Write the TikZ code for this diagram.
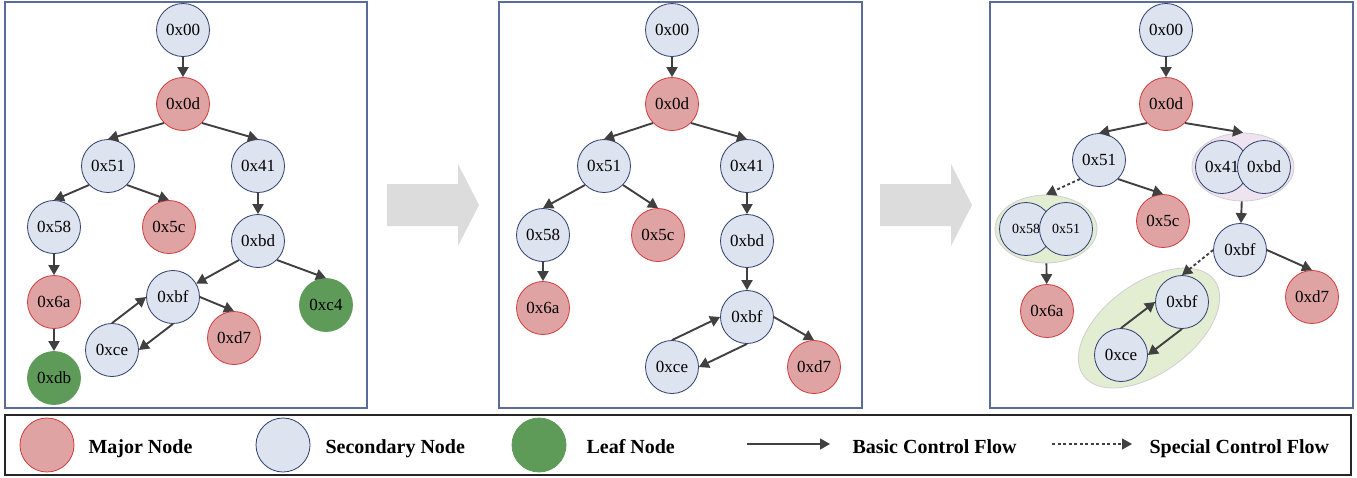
\documentclass[tikz,border=0pt]{standalone}
\usepackage{fontspec}
\setmainfont{Liberation Serif}
\usetikzlibrary{arrows.meta,shapes.geometric}
\definecolor{majfill}{HTML}{E0A3A3}
\definecolor{majline}{HTML}{D23B3B}
\definecolor{secfill}{HTML}{DDE3EF}
\definecolor{secline}{HTML}{2F3E6E}
\definecolor{leaffill}{HTML}{5E9B59}
\definecolor{frameline}{HTML}{5B6C9B}
\definecolor{flowline}{HTML}{404040}
\definecolor{grpgreen}{HTML}{E3EDD2}
\definecolor{grppink}{HTML}{EEE4EF}
\definecolor{grpline}{HTML}{CFCFCF}
\definecolor{bigarrow}{HTML}{DCDCDC}
\begin{document}
\begin{tikzpicture}[x=1pt,y=-1pt,
                major/.style={circle,draw=majline,fill=majfill,line width=0.8pt,minimum size=53pt,inner sep=0pt,font=\fontsize{17}{17}\selectfont},
                second/.style={major,draw=secline,fill=secfill},
                leaf/.style={major,draw=leaffill,fill=leaffill},
                small/.style={font=\fontsize{14}{14}\selectfont},
                flow/.style={draw=flowline,line width=1.9pt,-{Triangle[length=10pt,width=11pt]}},
                special/.style={flow,dash pattern=on 3pt off 2.5pt},
                group/.style={ellipse,draw=grpline,line width=0.8pt,inner sep=0pt},
                panel/.style={draw=frameline,line width=1.6pt},
                legendtext/.style={anchor=base west,font=\bfseries\fontsize{20}{20}\selectfont}]
                \fill[white] (0,0) rectangle (1357,477);
                \useasboundingbox (0,0) rectangle (1357,477);
                \draw[panel] (5,2) rectangle (367,408);
                \draw[panel] (499,2) rectangle (862,408);
                \draw[panel] (990,2) rectangle (1353,408);
                \fill[bigarrow] (387,184) -- (458,184) -- (458,164) -- (479,205) -- (458,246) -- (458,226) -- (387,226) -- cycle;
                \fill[bigarrow] (880,184) -- (951,184) -- (951,164) -- (972,205) -- (951,246) -- (951,226) -- (880,226) -- cycle;

                \node[second] (a00) at (183,30) {0x00};
                \node[major] (a0d) at (183,104) {0x0d};
                \node[second] (a51) at (108,166) {0x51};
                \node[second] (a41) at (258,166) {0x41};
                \node[second] (a58) at (54,227) {0x58};
                \node[major] (a5c) at (169,227) {0x5c};
                \node[second] (abd) at (258,241) {0xbd};
                \node[major] (a6a) at (54,302) {0x6a};
                \node[second] (abf) at (173,297) {0xbf};
                \node[leaf] (ac4) at (326,305) {0xc4};
                \node[second] (ace) at (112,350) {0xce};
                \node[major] (ad7) at (234,338) {0xd7};
                \node[leaf] (adb) at (54,378) {0xdb};
                \draw[flow] (a00) -- (a0d);
                \draw[flow] (a0d.south west) -- (a51.north);
                \draw[flow] (a0d.south east) -- (a41.north);
                \draw[flow] (a51.south west) -- (a58.north);
                \draw[flow] (a51.south east) -- (a5c.north);
                \draw[flow] (a58) -- (a6a);
                \draw[flow] (a6a) -- (adb);
                \draw[flow] (a41) -- (abd);
                \draw[flow] (abd.south west) -- (abf.30);
                \draw[flow] (abd.south east) -- (ac4.north);
                \draw[flow] (abf.east) -- (ad7.north);
                \draw[flow] (ace.north) -- (abf.west);
                \draw[flow] (abf.south) -- (ace.east);

                \node[second] (b00) at (672,30) {0x00};
                \node[major] (b0d) at (672,104) {0x0d};
                \node[second] (b51) at (604,166) {0x51};
                \node[second] (b41) at (747,166) {0x41};
                \node[second] (b58) at (543,235) {0x58};
                \node[major] (b5c) at (658,235) {0x5c};
                \node[major] (b6a) at (543,308) {0x6a};
                \node[second] (bbd) at (747,241) {0xbd};
                \node[second] (bbf) at (747,317) {0xbf};
                \node[second] (bce) at (672,367) {0xce};
                \node[major] (bd7) at (814,367) {0xd7};
                \draw[flow] (b00) -- (b0d);
                \draw[flow] (b0d.south west) -- (b51.north);
                \draw[flow] (b0d.south east) -- (b41.north);
                \draw[flow] (b51.south west) -- (b58.north);
                \draw[flow] (b51.south east) -- (b5c.north);
                \draw[flow] (b58) -- (b6a);
                \draw[flow] (b41) -- (bbd);
                \draw[flow] (bbd) -- (bbf);
                \draw[flow] (bbf.east) -- (bd7.north);
                \draw[flow] (bce.north) -- (bbf.west);
                \draw[flow] (bbf.south) -- (bce.east);

                \node[group,fill=grppink,minimum width=102pt,minimum height=68pt] (gA) at (1243,167) {};
                \node[group,fill=grpgreen,minimum width=102pt,minimum height=68pt] (gB) at (1046,229) {};
                \node[group,fill=grpgreen,minimum width=162pt,minimum height=90pt,rotate=36] (gC) at (1149,328) {};
                \node[second] (c00) at (1166,30) {0x00};
                \node[major] (c0d) at (1166,104) {0x0d};
                \node[second] (c51) at (1099,160) {0x51};
                \node[second] (c41) at (1222,167) {0x41};
                \node[second] (cbd) at (1264,167) {0xbd};
                \node[second,small] (c58) at (1026,229) {0x58};
                \node[second,small] (c51b) at (1066,229) {0x51};
                \node[major] (c5c) at (1163,221) {0x5c};
                \node[major] (c6a) at (1047,311) {0x6a};
                \node[second] (cbf) at (1240,250) {0xbf};
                \node[major] (cd7) at (1312,297) {0xd7};
                \node[second] (cbfb) at (1182,302) {0xbf};
                \node[second] (cce) at (1121,355) {0xce};
                \draw[flow] (c00) -- (c0d);
                \draw[flow] (c0d.south west) -- (c51.north);
                \draw[flow] (c0d.south east) -- (gA.north);
                \draw[special] (c51.south west) -- (gB.north);
                \draw[flow] (c51.south east) -- (c5c.north);
                \draw[flow] (gB) -- (c6a);
                \draw[flow] (gA) -- (cbf);
                \draw[special] (cbf.west) -- (cbfb.north);
                \draw[flow] (cbf.east) -- (cd7.north);
                \draw[flow] (cce.north) -- (cbfb.west);
                \draw[flow] (cbfb.south) -- (cce.east);

                \draw[line width=1.6pt,draw=black!85] (5,415) rectangle (1351,475);
                \node[major,minimum size=54pt] (lmaj) at (47,445) {};
                \node[legendtext] (tmaj) at (85,453) {Major Node};
                \node[second,minimum size=54pt] (lsec) at (283,445) {};
                \node[legendtext] (tsec) at (322,453) {Secondary Node};
                \node[leaf,minimum size=54pt] (lleaf) at (539,445) {};
                \node[legendtext] (tleaf) at (583,453) {Leaf Node};
                \coordinate (bs) at (747,444);
                \coordinate (be) at (830,444);
                \draw[flow,line width=1.3pt] (bs) -- (be);
                \node[legendtext] (tbasic) at (849,453) {Basic Control Flow};
                \coordinate (ss) at (1052,444);
                \coordinate (se) at (1132,444);
                \draw[special,line width=1.3pt] (ss) -- (se);
                \node[legendtext] (tspecial) at (1146,453) {Special Control Flow};
            \end{tikzpicture}
\end{document}
